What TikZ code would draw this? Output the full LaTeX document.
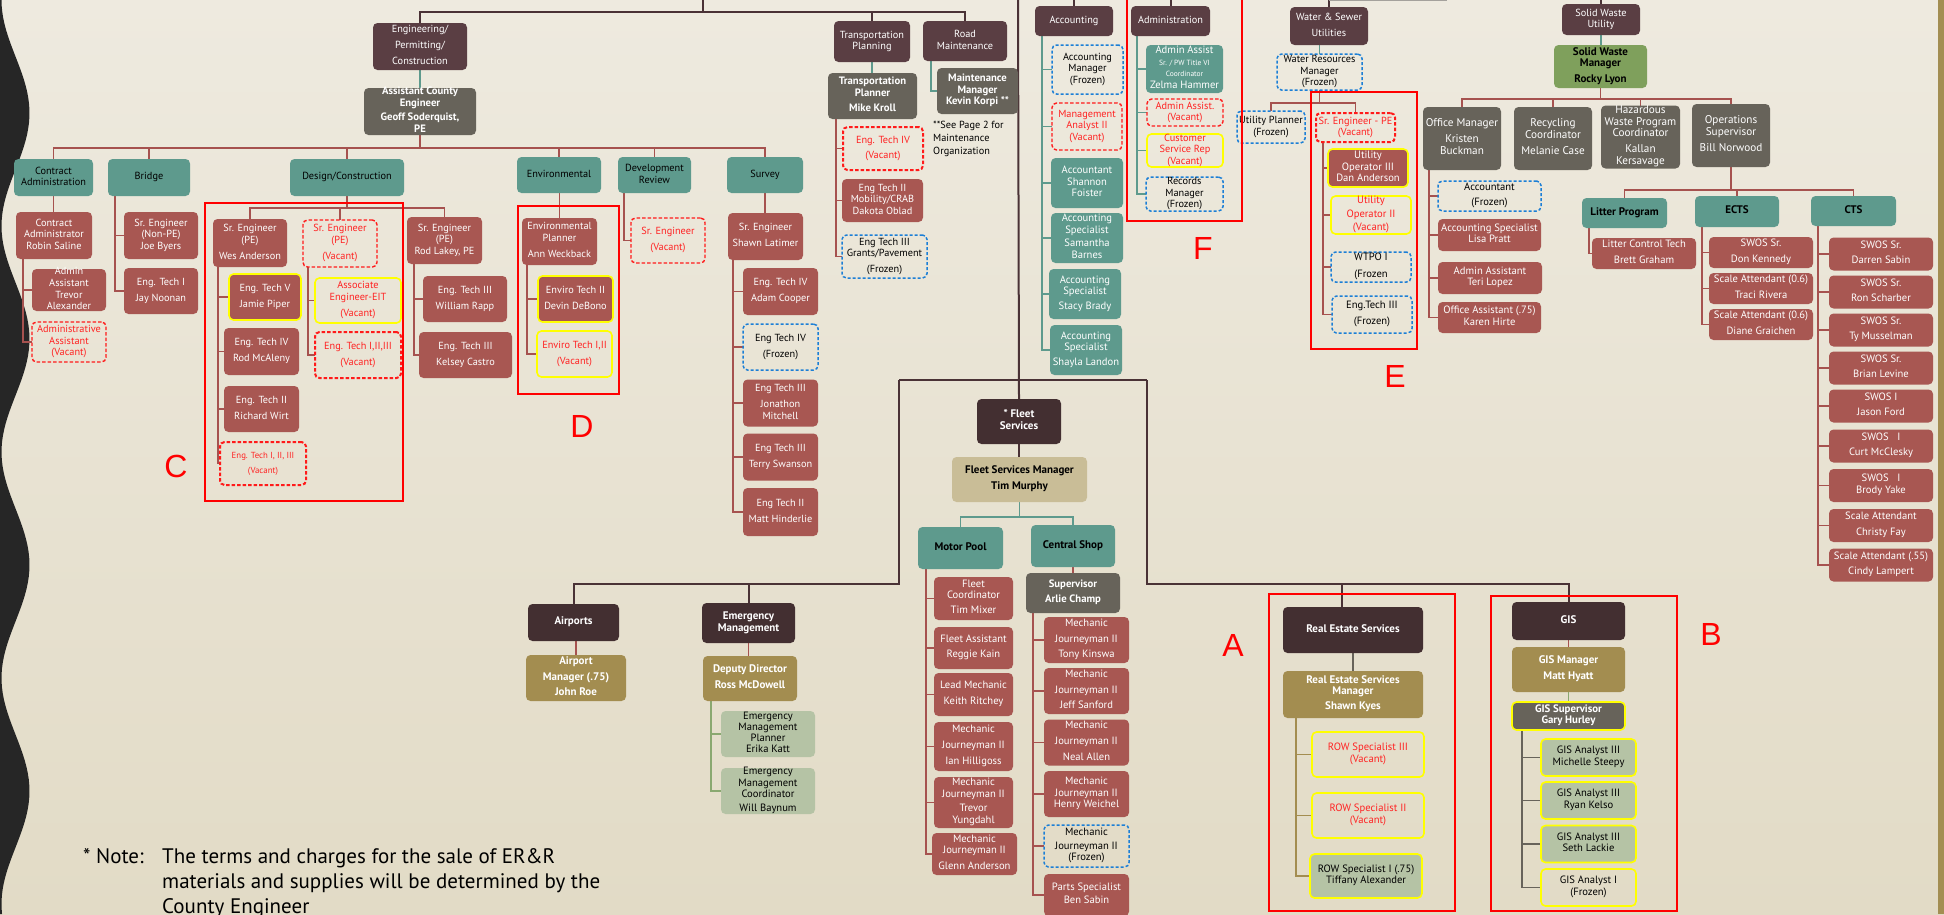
\documentclass[tikz,border=0pt]{standalone}
\usepackage{fontspec}
\setmainfont{PT Sans}
\newfontfamily\arialf{Liberation Sans}
\usetikzlibrary{calc}
\pgfdeclarelayer{bg}\pgfdeclarelayer{ln}\pgfsetlayers{bg,ln,main}
\definecolor{cHdr}{HTML}{5A3E43}
\definecolor{cHdrD}{HTML}{432F31}
\definecolor{cRb}{HTML}{A85752}
\definecolor{cTeal}{HTML}{5E9A8D}
\definecolor{cGo}{HTML}{67635A}
\definecolor{cGold}{HTML}{A38D50}
\definecolor{cTan}{HTML}{C9BD97}
\definecolor{cSage}{HTML}{B5C3A5}
\definecolor{cGreen}{HTML}{7FA05C}
\definecolor{cTrunk}{HTML}{4A3236}
\definecolor{cVred}{HTML}{FF1A1A}
\definecolor{cVtext}{HTML}{FF2222}
\definecolor{cBlue}{HTML}{1C7FD6}
\definecolor{cYel}{HTML}{FFFF00}
\definecolor{cLine}{HTML}{A6524F}
\definecolor{cGreenL}{HTML}{8AA870}
\definecolor{cRed}{HTML}{FF0000}
\definecolor{cBgTop}{HTML}{EEEADF}
\definecolor{cBgMid}{HTML}{DAD0B6}
\definecolor{cBgBot}{HTML}{E2DBC6}
\definecolor{cWave}{HTML}{262626}
\definecolor{cBar}{HTML}{A38E52}
\newcommand\tx[1]{\makebox[0pt]{\smash{\raisebox{-2.5pt}{\begin{tabular}{@{}c@{}}#1\end{tabular}}}}}
\newcommand\bx[7]{\node[#6,minimum width=#4pt,minimum height=#5pt] (#1) at (#2,#3) {\tx{#7}};}
\newcommand\side[4]{\foreach \nd in {#4}{\draw[#1] ([xshift=#2pt]#3.south west) |- (\nd.west);}}
\newcommand\bus[4]{\foreach \nd in {#4}{\draw[#1] (#2.south) -- ++(0,#3) -| (\nd.north);}}
\tikzset{
 bx/.style={rounded corners=4.5pt, inner sep=0pt, outer sep=0pt, font=\fontsize{10.3}{11.6}\selectfont},
 hd/.style={bx, fill=cHdr, text=white},
 hdb/.style={bx, fill=cHdrD, text=white, font=\fontsize{11}{12}\selectfont\bfseries},
 rbx/.style={bx, fill=cRb, text=white},
 rbl/.style={rbx, font=\fontsize{10.6}{11.3}\selectfont},
 tlx/.style={bx, fill=cTeal, text=black},
 tlw/.style={bx, fill=cTeal, text=white, font=\fontsize{10.6}{11.5}\selectfont},
 tlb/.style={bx, fill=cTeal, text=black, font=\fontsize{11}{12}\selectfont\bfseries},
 gox/.style={bx, fill=cGo, text=white, font=\fontsize{11.2}{11.6}\selectfont},
 gob/.style={bx, fill=cGo, text=white, font=\fontsize{10.7}{11.3}\selectfont\bfseries},
 gdb/.style={bx, fill=cGold, text=white, font=\fontsize{11}{11.3}\selectfont\bfseries},
 tanb/.style={bx, fill=cTan, text=black, font=\fontsize{11}{11.3}\selectfont\bfseries},
 swms/.style={bx, fill=cGreen, text=black, font=\fontsize{11}{11.5}\selectfont\bfseries},
 sgx/.style={bx, fill=cSage, text=black},
 sgl/.style={sgx, font=\fontsize{10.6}{11.3}\selectfont},
 vac/.style={bx, draw=cVred, dash pattern=on 3.5pt off 2pt, line width=1.4pt, text=cVtext},
 vact/.style={vac, line width=2pt},
 frz/.style={bx, draw=cBlue, dash pattern=on 3pt off 2pt, line width=1.5pt, text=black},
 frzl/.style={frz, font=\fontsize{10.6}{11.3}\selectfont},
 yel/.style={draw=cYel, line width=1.6pt},
 yvac/.style={bx, draw=cYel, line width=1.6pt, text=cVtext},
 ln/.style={line width=1.8pt, draw=cLine},
 lt/.style={line width=1.8pt, draw=cTeal},
 lk/.style={line width=2pt, draw=cTrunk},
 lg/.style={line width=1.8pt, draw=cGold},
 lgr/.style={line width=1.8pt, draw=cGreenL},
 lgy/.style={line width=1.8pt, draw=cGo},
 redbox/.style={draw=cRed, line width=2.5pt},
 letterf/.style={text=cRed, inner sep=0pt, font=\arialf\fontsize{32}{32}\selectfont},
 notef/.style={inner sep=0pt, text=black, font=\fontsize{21}{25}\selectfont}
}
\begin{document}
\begin{tikzpicture}[x=1pt,y=-1pt]
\useasboundingbox (0,0) rectangle (1944,914);
\begin{pgfonlayer}{bg}
\shade[top color=cBgTop, middle color=cBgMid, bottom color=cBgBot] (0,0) rectangle (1944,914);
\fill[cWave] (0,0) -- plot[domain=0:914, samples=150] ({15.5-14*cos(1.5929*\x)}, \x) -- (0,914) -- cycle;
\fill[cBar] (1938,0) rectangle (1944,914);
\end{pgfonlayer}

% ---------- Engineering ----------
\bx{epc}{420}{46.5}{94}{47}{hd}{Engineering/\\[4.5pt]Permitting/\\[4.5pt]Construction}
\bx{ace}{420}{111.5}{112}{47}{gob}{Assistant County\\Engineer\\[3.5pt]Geoff Soderquist,\\PE}
\bx{ca}{53.5}{177.5}{79}{37}{tlx}{Contract\\Administration}
\bx{bridge}{149}{177.5}{82}{37}{tlx}{Bridge}
\bx{dc}{347}{177.5}{114}{37}{tlx}{Design/Construction}
\bx{env}{559}{175}{84}{36}{tlx}{Environmental}
\bx{devrev}{654.5}{175}{73}{36}{tlx}{Development\\Review}
\bx{survey}{765}{175}{76}{36}{tlx}{Survey}
\bx{robin}{54}{235.5}{76}{47}{rbx}{Contract\\Administrator\\Robin Saline}
\bx{trevor}{69}{290}{74}{42}{rbx}{Admin\\Assistant\\Trevor\\Alexander}
\bx{aav}{69}{342}{74}{40}{vac}{Administrative\\Assistant\\(Vacant)}
\bx{joe}{161}{235.5}{74}{47}{rbx}{Sr. Engineer\\(Non-PE)\\Joe Byers}
\bx{jay}{161}{291}{74}{46}{rbx}{Eng. Tech I\\[4.5pt]Jay Noonan}
\bx{wes}{250}{243}{74}{48}{rbx}{Sr. Engineer\\(PE)\\[4.5pt]Wes Anderson}
\bx{sev}{340}{243.5}{74}{47}{vac}{Sr. Engineer\\(PE)\\[4.5pt](Vacant)}
\bx{rod}{444.5}{240.5}{75}{47}{rbx}{Sr. Engineer\\(PE)\\Rod Lakey, PE}
\bx{jamie}{265}{297}{72}{46}{rbx,yel}{Eng. Tech V\\[4.5pt]Jamie Piper}
\bx{rodm}{261.5}{351.5}{75}{47}{rbx}{Eng. Tech IV\\[4.5pt]Rod McAleny}
\bx{rich}{261.5}{409}{75}{46}{rbx}{Eng. Tech II\\[4.5pt]Richard Wirt}
\bx{etv}{263}{463.5}{86}{43}{vact,font=\fontsize{8.8}{10}\selectfont}{Eng. Tech I, II, III\\[5.5pt](Vacant)}
\bx{aee}{358}{300.5}{86}{45}{yvac}{Associate\\Engineer-EIT\\[4.5pt](Vacant)}
\bx{etvb}{358}{355}{86}{46}{vact}{Eng. Tech I,II,III\\[4.5pt](Vacant)}
\bx{rapp}{465}{299}{84}{46}{rbx}{Eng. Tech III\\[4.5pt]William Rapp}
\bx{kelsey}{465.5}{355}{93}{46}{rbx}{Eng. Tech III\\[4.5pt]Kelsey Castro}
\bx{ann}{559.5}{241.5}{75}{47}{rbx}{Environmental\\Planner\\[4.5pt]Ann Weckback}
\bx{devin}{575.5}{299}{75}{46}{rbx,yel}{Enviro Tech II\\[4.5pt]Devin DeBono}
\bx{etvac}{574.5}{354}{75}{46}{yvac}{Enviro Tech I,II\\[4.5pt](Vacant)}
\bx{dvsr}{668}{240.5}{74}{45}{vac}{Sr. Engineer\\[4.5pt](Vacant)}
\bx{shawn}{765.5}{236.5}{75}{47}{rbx}{Sr. Engineer\\[4.5pt]Shawn Latimer}
\bx{adam}{780.5}{291.5}{75}{47}{rbx}{Eng. Tech IV\\[4.5pt]Adam Cooper}
\bx{etfz}{780.5}{347}{75}{46}{frz}{Eng Tech IV\\[4.5pt](Frozen)}
\bx{jon}{780.5}{403}{75}{47}{rbx}{Eng Tech III\\[4.5pt]Jonathon\\Mitchell}
\bx{terry}{780.5}{457}{75}{47}{rbx}{Eng Tech III\\[4.5pt]Terry Swanson}
\bx{matt}{780.5}{512}{75}{48}{rbx}{Eng Tech II\\[4.5pt]Matt Hinderlie}

% ---------- Transportation / Road ----------
\bx{tp}{872}{41.5}{76}{41}{hd}{Transportation\\Planning}
\bx{mike}{872.5}{96}{89}{46}{gob}{Transportation\\Planner\\[4pt]Mike Kroll}
\bx{etfv}{883}{148.5}{80}{43}{vact}{Eng. Tech IV\\[3pt](Vacant)}
\bx{dakota}{882.5}{200.5}{81}{43}{rbx}{Eng Tech II\\Mobility/CRAB\\Dakota Oblad}
\bx{grants}{884.5}{256.5}{85}{43}{frz}{Eng Tech III\\Grants/Pavement\\[4pt](Frozen)}
\bx{rm}{965}{41}{84}{40}{hd}{Road\\Maintenance}
\bx{kevin}{977.5}{91}{81}{46}{gob}{Maintenance\\Manager\\Kevin Korpi **}
\node[anchor=north west, inner sep=0pt, align=left, font=\fontsize{10.3}{13}\selectfont] (seep) at (933,121) {**See Page 2 for\\Maintenance\\Organization};

% ---------- Accounting / Administration ----------
\bx{acct}{1074}{21}{78}{30}{hd}{Accounting}
\bx{acm}{1087.5}{69.5}{71}{49}{frz}{Accounting\\Manager\\(Frozen)}
\bx{mana}{1087}{126.5}{70}{47}{vac}{Management\\Analyst II\\(Vacant)}
\bx{shannon}{1087}{183}{72}{50}{tlw}{Accountant\\Shannon\\Foister}
\bx{samantha}{1087}{238}{72}{50}{tlw}{Accounting\\Specialist\\[2pt]Samantha\\Barnes}
\bx{stacy}{1085}{294}{72}{50}{tlw}{Accounting\\Specialist\\[3pt]Stacy Brady}
\bx{shayla}{1086}{350}{72}{50}{tlw}{Accounting\\Specialist\\[3pt]Shayla Landon}
\bx{admin}{1170.5}{21}{79}{30}{hd}{Administration}
\bx{zelma}{1184.5}{69}{77}{48}{tlw}{Admin Assist\\{\fontsize{7.5}{8}\selectfont Sr. / PW Title VI}\\{\fontsize{7.5}{8}\selectfont Coordinator}\\Zelma Hammer}
\bx{aavb}{1185}{112.5}{76}{27}{vac}{Admin Assist.\\(Vacant)}
\bx{csr}{1185}{150.5}{76}{33}{yvac}{Customer\\Service Rep\\(Vacant)}
\bx{recm}{1184.5}{194}{77}{34}{frz}{Records\\Manager\\(Frozen)}

% ---------- Water & Sewer ----------
\bx{wsu}{1329}{26}{78}{38}{hd}{Water \& Sewer\\[4.5pt]Utilities}
\bx{wrm}{1319.5}{72}{85}{36}{frz}{Water Resources\\Manager\\(Frozen)}
\bx{upl}{1271}{127}{68}{32}{frz}{Utility Planner\\(Frozen)}
\bx{srpe}{1355.5}{127.5}{79}{29}{vact}{Sr. Engineer - PE\\(Vacant)}
\bx{dan}{1368}{168}{80}{38}{rbl,yel}{Utility\\Operator III\\Dan Anderson}
\bx{uop}{1371}{215}{80}{38}{yvac,font=\fontsize{10.6}{11.3}\selectfont}{Utility\\[2pt]Operator II\\[2pt](Vacant)}
\bx{wtpo}{1371}{267}{80}{30}{frzl}{WTPO I\\[5pt](Frozen}
\bx{etfr}{1372}{314.5}{80}{37}{frzl}{Eng.Tech III\\[5pt](Frozen)}

% ---------- Solid Waste ----------
\bx{swu}{1601}{19.5}{78}{31}{hd}{Solid Waste\\Utility}
\bx{swm}{1600.5}{66.5}{93}{43}{swms}{Solid Waste\\Manager\\[4pt]Rocky Lyon}
\bx{offm}{1462}{138.5}{78}{63}{gox}{Office Manager\\[4.5pt]Kristen\\Buckman}
\bx{recy}{1553}{138.5}{78}{63}{gox}{Recycling\\Coordinator\\[4.5pt]Melanie Case}
\bx{haz}{1640.5}{137}{79}{63}{gox}{Hazardous\\Waste Program\\Coordinator\\[4.5pt]Kallan\\Kersavage}
\bx{ops}{1731}{135.5}{78}{63}{gox}{Operations\\Supervisor\\[4.5pt]Bill Norwood}
\bx{acctf}{1489.5}{196}{103}{30}{frzl}{Accountant\\[4.5pt](Frozen)}
\bx{lisa}{1489.5}{235}{103}{32}{rbl}{Accounting Specialist\\Lisa Pratt}
\bx{teri}{1490}{278}{104}{32}{rbl}{Admin Assistant\\Teri Lopez}
\bx{karen}{1489.5}{317.5}{103}{31}{rbl}{Office Assistant (.75)\\Karen Hirte}
\bx{litter}{1624.5}{213}{85}{30}{tlb}{Litter Program}
\bx{ects}{1737}{211.5}{84}{31}{tlb}{ECTS}
\bx{cts}{1853.5}{211}{85}{30}{tlb}{CTS}
\bx{brett}{1644}{253.5}{104}{31}{rbl}{Litter Control Tech\\[4.5pt]Brett Graham}
\bx{don}{1761}{252.5}{104}{31}{rbl}{SWOS Sr.\\[4.5pt]Don Kennedy}
\bx{traci}{1761}{288.5}{104}{31}{rbl}{Scale Attendant (0.6)\\[4.5pt]Traci Rivera}
\bx{diane}{1761}{324.5}{104}{31}{rbl}{Scale Attendant (0.6)\\[4.5pt]Diane Graichen}
\bx{darren}{1881}{254}{104}{33}{rbl}{SWOS Sr.\\[4.5pt]Darren Sabin}
\bx{ron}{1881}{292}{104}{33}{rbl}{SWOS Sr.\\[4.5pt]Ron Scharber}
\bx{ty}{1881}{330}{104}{33}{rbl}{SWOS Sr.\\[4.5pt]Ty Musselman}
\bx{brian}{1881}{368}{104}{33}{rbl}{SWOS Sr.\\[4.5pt]Brian Levine}
\bx{jason}{1881}{406}{104}{33}{rbl}{SWOS I\\[4.5pt]Jason Ford}
\bx{curt}{1881}{446}{104}{33}{rbl}{SWOS\ \ \ I\\[4.5pt]Curt McClesky}
\bx{brody}{1881}{485.5}{104}{33}{rbl}{SWOS\ \ \ I\\Brody Yake}
\bx{christy}{1881}{525.5}{104}{33}{rbl}{Scale Attendant\\[4.5pt]Christy Fay}
\bx{cindy}{1881}{565}{104}{33}{rbl}{Scale Attendant (.55)\\[4.5pt]Cindy Lampert}

% ---------- Fleet ----------
\bx{fleet}{1019}{421.5}{84}{45}{hdb}{* Fleet\\Services}
\bx{fsm}{1019.5}{479.5}{135}{45}{tanb}{Fleet Services Manager\\[4.5pt]Tim Murphy}
\bx{mpool}{960.5}{548}{85}{42}{tlb}{Motor Pool}
\bx{cshop}{1073}{546}{84}{42}{tlb}{Central Shop}
\bx{tim}{973.5}{598.5}{79}{43}{rbl}{Fleet\\Coordinator\\[4pt]Tim Mixer}
\bx{reggie}{973.5}{648}{79}{42}{rbl}{Fleet Assistant\\[4.5pt]Reggie Kain}
\bx{keith}{973.5}{694.5}{79}{43}{rbl}{Lead Mechanic\\[4.5pt]Keith Ritchey}
\bx{ian}{973.5}{746.5}{79}{49}{rbl}{Mechanic\\[4.5pt]Journeyman II\\[4.5pt]Ian Hilligoss}
\bx{trevy}{973.5}{802.5}{79}{51}{rbl}{Mechanic\\Journeyman II\\[3.5pt]Trevor\\Yungdahl}
\bx{glenn}{974.5}{854}{85}{42}{rbl}{Mechanic\\Journeyman II\\[4.5pt]Glenn Anderson}
\bx{arlie}{1073}{593}{94}{40}{gob}{Supervisor\\[4.5pt]Arlie Champ}
\bx{tony}{1086.5}{640}{85}{46}{rbl}{Mechanic\\[4.5pt]Journeyman II\\[4.5pt]Tony Kinswa}
\bx{jeff}{1086.5}{691}{85}{46}{rbl}{Mechanic\\[4.5pt]Journeyman II\\[4.5pt]Jeff Sanford}
\bx{neal}{1086.5}{742.5}{85}{46}{rbl}{Mechanic\\[4.5pt]Journeyman II\\[4.5pt]Neal Allen}
\bx{henry}{1086.5}{794}{85}{46}{rbl}{Mechanic\\[1pt]Journeyman II\\Henry Weichel}
\bx{mjf}{1086.5}{846}{85}{42}{frzl}{Mechanic\\[3pt]Journeyman II\\(Frozen)}
\bx{ben}{1086.5}{895}{85}{42}{rbl}{Parts Specialist\\[2.5pt]Ben Sabin}

% ---------- Airports / EM ----------
\bx{airports}{573.5}{622.5}{91}{37}{hdb}{Airports}
\bx{john}{576}{678}{100}{46}{gdb}{Airport\\[4.5pt]Manager (.75)\\[4.5pt]John Roe}
\bx{em}{748.5}{623}{93}{40}{hdb}{Emergency\\Management}
\bx{ross}{750}{678.5}{94}{45}{gdb}{Deputy Director\\[4.5pt]Ross McDowell}
\bx{erika}{768}{734}{94}{46}{sgl}{Emergency\\Management\\Planner\\Erika Katt}
\bx{will}{768}{791}{94}{46}{sgl}{Emergency\\Management\\Coordinator\\[2.5pt]Will Baynum}

% ---------- Real Estate ----------
\bx{res}{1353}{630}{140}{46}{hdb}{Real Estate Services}
\bx{kyes}{1353}{694.5}{140}{47}{gdb}{Real Estate Services\\Manager\\[4pt]Shawn Kyes}
\bx{rowc}{1368}{754.5}{112}{45}{yvac,font=\fontsize{10.6}{11.3}\selectfont}{ROW Specialist III\\(Vacant)}
\bx{rowb}{1368}{815.5}{112}{45}{yvac,font=\fontsize{10.6}{11.3}\selectfont}{ROW Specialist II\\(Vacant)}
\bx{tiff}{1366}{876}{112}{44}{sgl,yel}{ROW Specialist I (.75)\\Tiffany Alexander}

% ---------- GIS ----------
\bx{gis}{1568.5}{621}{113}{38}{hdb}{GIS}
\bx{hyatt}{1568.5}{669.5}{113}{45}{gdb}{GIS Manager\\[4.5pt]Matt Hyatt}
\bx{gary}{1568.5}{716}{113}{28}{gob,yel,font=\fontsize{10.8}{11}\selectfont\bfseries}{GIS Supervisor\\Gary Hurley}
\bx{michelle}{1588.5}{757.5}{95}{37}{sgl,yel}{GIS Analyst III\\Michelle Steepy}
\bx{ryan}{1588.5}{800.5}{95}{37}{sgl,yel}{GIS Analyst III\\Ryan Kelso}
\bx{seth}{1588.5}{844}{95}{37}{sgl,yel}{GIS Analyst III\\Seth Lackie}
\bx{gisa}{1588.5}{887.5}{95}{37}{bx,yel,text=black,font=\fontsize{10.6}{11.3}\selectfont}{GIS Analyst I\\(Frozen)}

% ---------- Coordinates for the trunk ----------
\coordinate (engtop) at (703,0);
\coordinate (trunktop) at (1018,0);
\coordinate (jl) at (899,380);
\coordinate (jr) at (1147,380);
\coordinate (jlb) at (899,584);
\coordinate (jrb) at (1147,584);
\coordinate (resdrop) at (1342,584);
\coordinate (gline) at (1447,0.8);

\begin{pgfonlayer}{ln}
% top
\foreach \nd in {epc,tp,rm}{\draw[lk] (engtop) -- ++(0,12) -| (\nd.north);}
\foreach \nd in {acct,admin,wsu,swu}{\draw[lk] (\nd.north) -- (\nd.north |- trunktop);}
\draw[line width=1pt, draw=cGo!60] (wsu.north |- gline) -- (gline);
% engineering
\draw[lt] (epc.south) -- (epc.south |- ace.north);
\bus{ln}{ace}{13}{ca,bridge,dc,env,devrev,survey}
\draw[ln] (ca.south) -- (ca.south |- robin.north);
\side{ln}{7}{robin}{trevor,aav}
\side{ln}{7}{bridge}{joe,jay}
\bus{ln}{dc}{12}{wes,sev,rod}
\side{ln}{5}{wes}{jamie,rodm,rich,etv}
\side{ln}{5}{sev}{aee,etvb}
\side{ln}{7}{rod}{rapp,kelsey}
\draw[ln] (ann.north) -- (ann.north |- env.south);
\side{ln}{5}{ann}{devin,etvac}
\side{ln}{6}{devrev}{dvsr}
\draw[ln] (survey.south) -- (survey.south |- shawn.north);
\side{ln}{5}{shawn}{adam,etfz,jon,terry,matt}
% transportation
\draw[lt] (tp.south) -- (tp.south |- mike.north);
\side{ln}{8}{mike}{etfv,dakota,grants}
\side{lt}{8}{rm}{kevin}
% accounting, admin
\side{lt}{7}{acct}{acm,mana,shannon,samantha,stacy,shayla}
\side{lt}{6}{admin}{zelma,aavb,csr,recm}
% water
\draw[lt] (wrm.north) -- (wrm.north |- wsu.south);
\bus{ln}{wrm}{13}{upl,srpe}
\side{ln}{7}{srpe}{dan,uop,wtpo,etfr}
% solid waste
\draw[lt] (swu.south) -- (swu.south |- swm.north);
\bus{ln}{swm}{11}{offm,recy,haz,ops}
\side{ln}{6}{offm}{acctf,lisa,teri,karen}
\bus{ln}{ops}{23}{litter,ects,cts}
\side{ln}{7}{litter}{brett}
\side{ln}{7}{ects}{don,traci,diane}
\side{ln}{7}{cts}{darren,ron,ty,brian,jason,curt,brody,christy,cindy}
% trunk
\draw[lk] (trunktop) -- (fleet.north);
\draw[lk] (jl) -- (jr);
\draw[lk] (jl) -- (jlb) -| (airports.north);
\draw[lk] (jlb) -| (em.north);
\draw[lk] (jr) -- (jrb) -| (gis.north);
\draw[lk] (jrb) -- (resdrop) -- (resdrop |- res.north);
% fleet
\draw[lk] (fleet.south) -- (fleet.south |- fsm.north);
\bus{lt}{fsm}{15}{mpool,cshop}
\side{ln}{8}{mpool}{tim,reggie,keith,ian,trevy,glenn}
\draw[ln] (cshop.south) -- (cshop.south |- arlie.north);
\side{ln}{7}{arlie}{tony,jeff,neal,henry,mjf,ben}
% airports / EM
\draw[ln] (john.north) -- (john.north |- airports.south);
\draw[ln] (em.south) -- (em.south |- ross.north);
\side{lgr}{8}{ross}{erika,will}
% RES
\draw[lgy] (res.south) -- (res.south |- kyes.north);
\side{lg}{13}{kyes}{rowc,rowb,tiff}
% GIS
\draw[ln] (gis.south) -- (gis.south |- hyatt.north);
\draw[lgr] (hyatt.south) -- (hyatt.south |- gary.north);
\side{lgy}{10}{gary}{michelle,ryan,seth,gisa}
\end{pgfonlayer}

% ---------- red outlines and letters ----------
\draw[redbox] (205,203) rectangle (403,501);
\draw[redbox] (518,206) rectangle (619,394);
\draw[redbox] (1311,92) rectangle (1417,349);
\draw[redbox] (1127,-3) rectangle (1242,221);
\draw[redbox] (1269,594) rectangle (1455,911);
\draw[redbox] (1491,596) rectangle (1677,911);
\node[letterf] (lc) at (176,466) {C};
\node[letterf] (ld) at (582,426) {D};
\node[letterf] (le) at (1395,376) {E};
\node[letterf] (lf) at (1203,248) {F};
\node[letterf] (la) at (1233,645) {A};
\node[letterf] (lb) at (1711,634) {B};

% ---------- note ----------
\node[notef, anchor=base west] (note0) at (83,863) {* Note:};
\node[notef, anchor=base west] (note1) at (162,863) {The terms and charges for the sale of ER\&R};
\node[notef, anchor=base west] (note2) at (162,888) {materials and supplies will be determined by the};
\node[notef, anchor=base west] (note3) at (162,913) {County Engineer};
\end{tikzpicture}
\end{document}
